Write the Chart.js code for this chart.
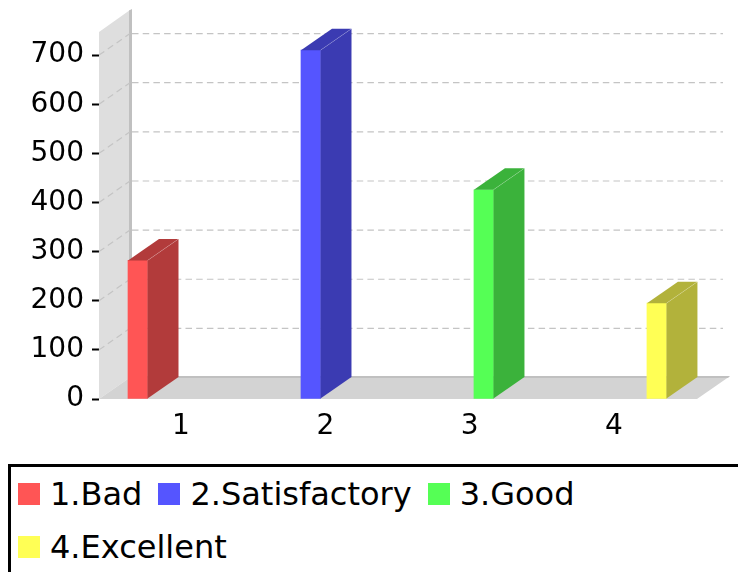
<!DOCTYPE html>
<html>
<head>
<meta charset="utf-8">
<title>Chart</title>
<script src="https://cdn.jsdelivr.net/npm/chart.js@4"></script>
<style>
  html, body { margin: 0; padding: 0; background: #fff; overflow: hidden; width: 738px; height: 572px; }
  #wrap { position: relative; width: 738px; height: 572px; overflow: hidden; }
  canvas { position: absolute; left: 0; top: 0; }
  #legend {
    position: absolute; left: 8px; top: 464px; width: 730px; height: 120px; box-sizing: border-box;
    border-left: 3px solid #000; border-top: 3px solid #000;
    padding: 0 0 0 7px; display: flex; flex-wrap: wrap; align-content: flex-start;
    font: 32px "DejaVu Sans", sans-serif; color: #000;
  }
  .item { display: flex; align-items: center; height: 53px; margin-right: 16px; }
  .swatch { width: 22px; height: 22px; margin-right: 10px; }
</style>
</head>
<body>
<div id="wrap">
  <canvas id="chart" width="738" height="460"></canvas>
  <div id="legend"></div>
</div>
<script>
// Werte
var seriesNames = ["1.Bad", "2.Satisfactory", "3.Good", "4.Excellent"];
var seriesValues = [282, 710, 426, 195];
var seriesColors = ["#ff5555", "#5555ff", "#55ff55", "#ffff55"];
var sideColors = ["#b23b3b", "#3b3bb2", "#3bb23b", "#b2b23b"];
var tickLabels = ["1", "2", "3", "4"];

// Tiefe des 3D-Effekts in Pixeln
var DEPTH_X = 31;
var DEPTH_Y = 21.5;

function poly(ctx, pts, fill) {
  ctx.beginPath();
  ctx.moveTo(pts[0][0], pts[0][1]);
  for (var i = 1; i < pts.length; i++) ctx.lineTo(pts[i][0], pts[i][1]);
  ctx.closePath();
  ctx.fillStyle = fill;
  ctx.fill();
}

// Wand, Boden und Gitterlinien hinter den Balken
var backdrop = {
  id: "backdrop",
  beforeDatasetsDraw: function (chart) {
    var ctx = chart.ctx, a = chart.chartArea, y = chart.scales.y;
    ctx.save();
    poly(ctx, [[a.left, a.bottom], [a.left, a.top], [a.left + DEPTH_X, a.top - DEPTH_Y - 0.5], [a.left + DEPTH_X, a.bottom - DEPTH_Y]], "#dedede");
    poly(ctx, [[a.left, a.bottom], [a.right, a.bottom], [a.right + DEPTH_X, a.bottom - DEPTH_Y], [a.left + DEPTH_X, a.bottom - DEPTH_Y]], "#d3d3d3");
    // dunklere Kanten
    poly(ctx, [[a.left + DEPTH_X - 1, a.top - DEPTH_Y], [a.left + DEPTH_X + 2, a.top - DEPTH_Y - 1.5], [a.left + DEPTH_X + 2, a.bottom - DEPTH_Y], [a.left + DEPTH_X - 1, a.bottom - DEPTH_Y]], "#c0c0c0");
    poly(ctx, [[a.left + DEPTH_X, a.bottom - DEPTH_Y - 1.5], [a.right + DEPTH_X + 2, a.bottom - DEPTH_Y - 1.5], [a.right + DEPTH_X, a.bottom - DEPTH_Y + 0.5], [a.left + DEPTH_X, a.bottom - DEPTH_Y + 0.5]], "#c0c0c0");

    ctx.strokeStyle = "#c4c4c4";
    ctx.lineWidth = 1.2;
    ctx.setLineDash([6.5, 4.2]);
    y.ticks.forEach(function (t) {
      if (t.value === 0) return;
      var py = y.getPixelForValue(t.value);
      ctx.beginPath();
      ctx.moveTo(a.left, py);
      ctx.lineTo(a.left + DEPTH_X, py - DEPTH_Y);
      ctx.stroke();
      ctx.beginPath();
      ctx.moveTo(a.left + DEPTH_X + 2, py - DEPTH_Y);
      ctx.lineTo(a.right + DEPTH_X - 5, py - DEPTH_Y);
      ctx.stroke();
    });
    ctx.restore();
  },
  // Seiten- und Deckfläche aus den Balken-Elementen
  afterDatasetsDraw: function (chart) {
    var ctx = chart.ctx;
    ctx.save();
    chart.data.datasets.forEach(function (ds, i) {
      var bar = chart.getDatasetMeta(i).data[0];
      var l = bar.x - bar.width / 2, r = bar.x + bar.width / 2, t = bar.y, b = bar.base;
      poly(ctx, [[r, b], [r, t], [r + DEPTH_X, t - DEPTH_Y], [r + DEPTH_X, b - DEPTH_Y]], sideColors[i]);
      poly(ctx, [[l, t], [r, t], [r + DEPTH_X, t - DEPTH_Y], [l + DEPTH_X, t - DEPTH_Y]], sideColors[i]);
      ctx.strokeStyle = "rgba(255,255,255,0.25)";
      ctx.lineWidth = 0.7;
      ctx.beginPath();
      ctx.moveTo(r, t);
      ctx.lineTo(r + DEPTH_X, t - DEPTH_Y);
      ctx.stroke();
    });
    ctx.restore();
  }
};

// Legende als HTML
var htmlLegend = {
  id: "htmlLegend",
  afterUpdate: function (chart) {
    var box = document.getElementById("legend");
    box.innerHTML = "";
    chart.options.plugins.legend.labels.generateLabels(chart).forEach(function (item) {
      var row = document.createElement("div");
      row.className = "item";
      var sw = document.createElement("div");
      sw.className = "swatch";
      sw.style.background = item.fillStyle;
      var txt = document.createElement("span");
      txt.textContent = item.text;
      row.appendChild(sw);
      row.appendChild(txt);
      box.appendChild(row);
    });
  }
};

var datasets = seriesNames.map(function (name, i) {
  return {
    label: name,
    data: [{ x: i + 1, y: seriesValues[i] }],
    backgroundColor: seriesColors[i],
    xAxisID: "xBars",
    yAxisID: "y",
    barThickness: 19.5,
    grouped: false
  };
});

new Chart(document.getElementById("chart").getContext("2d"), {
  type: "bar",
  data: { datasets: datasets },
  plugins: [backdrop, htmlLegend],
  options: {
    responsive: false,
    animation: false,
    layout: { padding: { top: 32, right: 41, left: 0, bottom: 0 } },
    plugins: { legend: { display: false }, tooltip: { enabled: false } },
    scales: {
      xBars: {
        type: "linear",
        display: false,
        offset: false,
        min: 0.776,
        max: 4.233
      },
      x: {
        type: "linear",
        position: "bottom",
        offset: false,
        min: 1 - 82 / 144.4,
        max: 4 + 83 / 144.4,
        afterBuildTicks: function (axis) {
          axis.ticks = tickLabels.map(function (l, i) { return { value: i + 1 }; });
        },
        afterFit: function (axis) { axis.height = 61; },
        grid: { display: false },
        border: { display: false },
        ticks: {
          autoSkip: false,
          maxRotation: 0,
          padding: 3,
          color: "#000",
          font: { family: "DejaVu Sans", size: 28 },
          callback: function (v) { return tickLabels[v - 1]; }
        }
      },
      y: {
        type: "linear",
        min: 0,
        max: 747,
        afterFit: function (axis) { axis.width = 99; },
        grid: { drawOnChartArea: false, drawTicks: true, tickLength: 7, tickColor: "#000", tickWidth: 2 },
        border: { display: false },
        ticks: {
          stepSize: 100,
          includeBounds: false,
          padding: 8,
          color: "#000",
          font: { family: "DejaVu Sans", size: 28 }
        }
      }
    }
  }
});
</script>
</body>
</html>
